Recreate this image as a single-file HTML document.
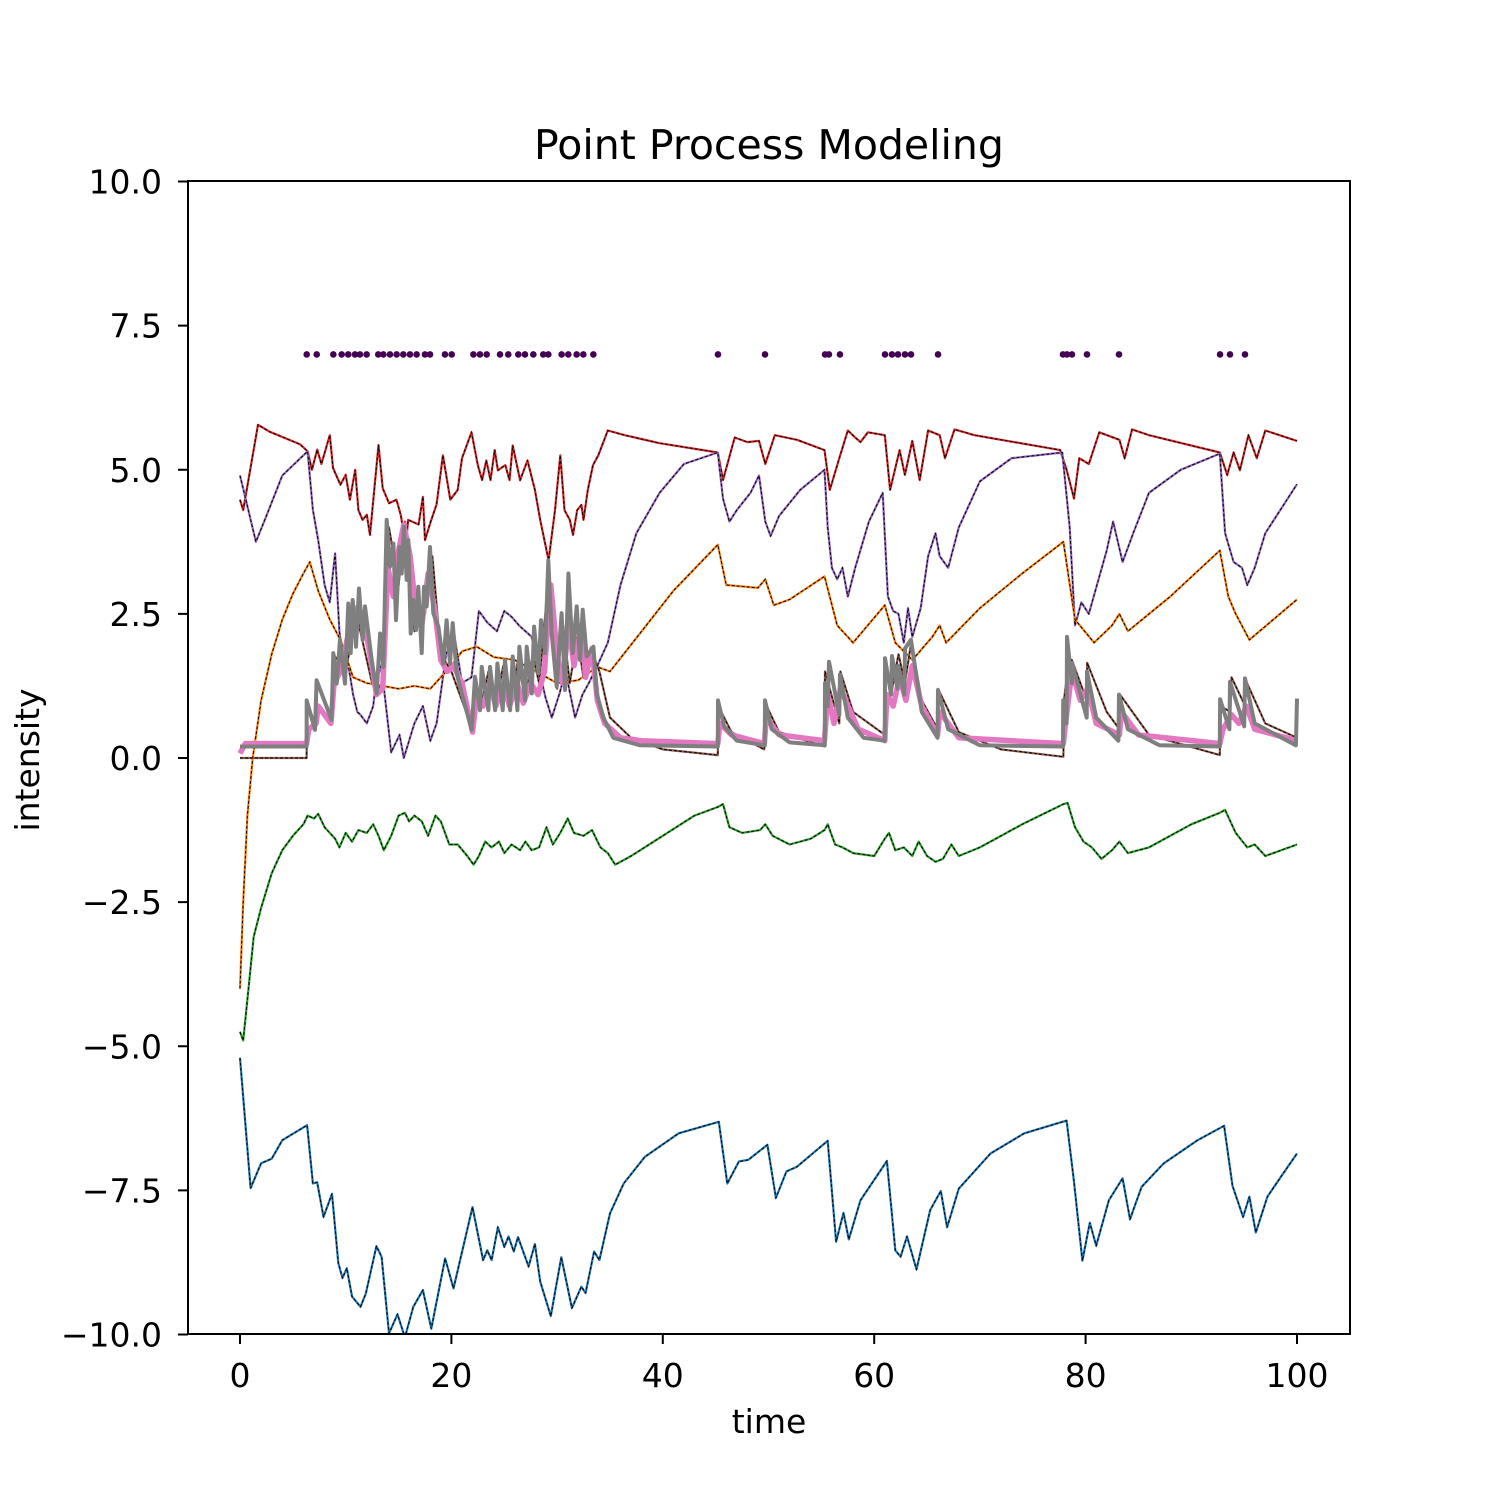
<!DOCTYPE html>
<html><head><meta charset="utf-8"><style>
html,body{margin:0;padding:0;background:#fff;}
svg{display:block;font-family:"DejaVu Sans","Liberation Sans",sans-serif;}
</style></head><body>
<svg id="chart" width="1500" height="1500" viewBox="0 0 1500 1500" xmlns="http://www.w3.org/2000/svg">
<rect width="1500" height="1500" fill="#fff"/>
<defs><clipPath id="plotclip"><rect x="188" y="181" width="1162" height="1153"/></clipPath></defs>
<text x="769" y="159" font-size="41" text-anchor="middle">Point Process Modeling</text>
<g id="series" clip-path="url(#plotclip)"></g>
<rect x="188" y="181" width="1162" height="1153" fill="none" stroke="#000" stroke-width="2"/>
<g id="axes" font-size="33"></g>
<text x="769" y="1433" font-size="33" text-anchor="middle">time</text>
<text x="0" y="0" font-size="33" text-anchor="middle" transform="translate(39,760) rotate(-90)">intensity</text>
</svg>
<script>
const xTicks=[0,20,40,60,80,100];
const yTicks=[10,7.5,5,2.5,0,-2.5,-5,-7.5,-10];
const yTickLabels=["10.0","7.5","5.0","2.5","0.0","\u22122.5","\u22125.0","\u22127.5","\u221210.0"];
const eventTimes=[6.31,7.26,8.83,9.62,10.24,10.88,11.35,11.98,13.08,13.56,14.19,14.82,15.45,16.08,16.71,17.5,17.98,19.39,20.03,22.08,22.7,23.34,24.6,25.38,26.33,26.96,27.75,28.69,29.17,30.43,31.06,31.85,32.48,33.43,45.22,49.67,55.35,55.72,56.76,61.02,61.68,62.25,62.91,63.48,66.04,77.86,78.24,78.71,80.13,83.16,92.72,93.66,95.08];
const eventLevel=7;
const redT=[0,0.3,1.7,2.8,5.7,6.4,6.8,7.3,7.7,8.5,8.8,9.5,10,10.4,10.9,11.2,11.6,12,12.3,13.1,13.5,14.1,14.8,15.2,15.7,15.9,16.9,17.3,17.5,18,18.6,19.2,19.9,20.6,21,21.9,22.5,22.9,23.3,23.7,24.1,24.4,25.1,25.5,25.8,26.5,27.2,27.9,28.4,29.2,29.8,30.3,30.7,31.2,31.5,31.9,32.3,32.5,32.9,33.4,33.9,34.8,36.4,39.7,45.2,45.7,46.8,48,49.1,49.7,50.6,52.7,55.3,55.8,56.7,57.5,58.2,58.7,59.4,61,61.5,62.4,62.9,63.6,64.3,65.1,66.2,66.7,67.6,69.5,77.6,78.2,78.9,79.4,80.3,81.3,83.2,83.7,84.4,86,92.7,93.4,94,94.6,95.4,96.2,97,100];
const redV=[4.48,4.3,5.78,5.66,5.44,5.32,5.0,5.35,5.1,5.6,5.03,4.74,4.91,4.48,5.0,4.3,4.13,4.22,3.87,5.43,4.68,4.42,4.48,4.22,3.7,4.13,4.05,4.53,3.78,4.08,4.4,5.25,4.48,4.65,5.2,5.65,5.08,4.82,5.16,4.82,5.34,4.99,5.08,4.82,5.42,4.82,5.16,4.65,4.13,3.43,4.3,5.25,4.3,4.13,3.87,4.3,4.39,4.13,4.65,5.08,5.25,5.68,5.6,5.46,5.3,4.82,5.56,5.48,5.5,5.1,5.6,5.52,5.34,4.65,5.2,5.68,5.56,5.48,5.65,5.6,4.65,5.34,4.91,5.5,4.82,5.68,5.6,5.2,5.7,5.6,5.34,5.0,4.5,5.2,5.1,5.65,5.52,5.2,5.7,5.6,5.3,4.91,5.3,4.99,5.6,5.2,5.68,5.5];
const purpleT=[0,0.4,1.5,2.5,4,6.4,6.9,7.4,8,8.5,9,9.4,9.8,10.3,10.7,11.1,11.4,12,12.6,13.1,13.5,14.3,15.1,15.5,16,16.5,17.3,18,18.6,19.5,20.3,21,21.9,22.6,23.4,24.3,25,25.7,26.4,27.6,28.2,28.9,29.5,30.2,30.8,31.7,32.4,33,33.8,34.8,36,37.5,39.7,42,45.2,45.7,46.3,47,48.3,49.1,49.7,50.2,51,53,55.3,55.6,56,56.5,57,57.5,58.2,59.5,60.8,61.3,61.8,62.3,62.8,63.2,63.6,64.4,65.1,65.8,66.2,67,68,70,73,77.8,78.5,79,79.6,80.3,82,82.6,83.5,84.5,86,89,92.7,93.2,94,94.8,95.3,96,97,100];
const purpleV=[4.9,4.6,3.75,4.2,4.9,5.32,4.3,3.78,3.0,2.7,3.55,2.2,1.6,1.55,1.1,0.8,0.75,0.6,0.9,1.7,1.4,0.1,0.4,0.0,0.3,0.6,0.9,0.3,0.6,1.8,2.1,1.3,1.4,2.55,2.35,2.2,2.55,2.45,2.3,2.1,1.6,1.05,0.7,1.1,1.5,0.7,1.1,1.3,1.6,2.0,3.0,3.9,4.6,5.1,5.3,4.5,4.1,4.3,4.6,4.9,4.1,3.85,4.2,4.65,5.0,4.0,3.3,3.1,3.3,2.8,3.3,4.1,4.6,2.8,2.55,2.5,2.0,2.6,2.1,2.6,3.5,3.9,3.5,3.3,4.0,4.8,5.2,5.3,4.0,2.3,2.7,2.5,3.6,4.1,3.4,3.9,4.6,5.0,5.28,3.9,3.4,3.3,3.0,3.3,3.9,4.75];
const orangeT=[0,0.3,0.7,1.2,2,3,4,5,6,6.6,7.4,8.5,9.5,10.7,12,13.5,15,16.5,18,19,20,21,22.4,24,26,28,30,32,33.8,35,38,41,45.2,46,49,49.7,50.5,52,55.3,56.5,58,61,62,63.6,65.5,66.2,66.8,70,74,77.9,79,80.8,82.5,83.2,84,88,92.7,93.5,94.2,95.5,100];
const orangeV=[-4.0,-2.5,-1.0,0.0,1.0,1.8,2.4,2.85,3.2,3.4,2.9,2.4,2.05,1.4,1.3,1.25,1.2,1.25,1.2,1.4,1.6,1.85,1.93,1.75,1.7,1.5,1.3,1.35,1.58,1.5,2.2,2.9,3.7,3.0,2.95,3.1,2.65,2.75,3.15,2.3,2.0,2.65,2.0,1.7,2.1,2.3,2.0,2.6,3.2,3.75,2.4,2.0,2.3,2.5,2.2,2.8,3.6,2.8,2.5,2.05,2.75];
const greenT=[0,0.3,0.8,1.3,2,3,4,5,6,6.4,7,7.4,8,9,9.4,10,10.6,11.2,12,12.6,13.1,13.6,14.3,15,15.6,16,16.5,17.2,17.8,18.5,19,19.8,20.6,21.5,22.1,22.6,23.2,23.8,24.5,25,25.7,26.5,27,27.6,28.3,29,29.6,30.3,31,31.6,32.5,33.3,34.1,34.8,35.5,37,40,43,45.2,45.7,46.3,47.5,49.2,49.7,50.4,52,54,55.3,55.6,56.3,57,58,60,61,61.4,62,62.8,63.6,64.2,65,65.8,66.5,67.3,68,70,74,77.9,78.3,79,79.8,80.6,81.5,82.5,83.2,84,86,90,92.7,93.2,94.2,95.3,96,97,100];
const greenV=[-4.75,-4.9,-4.0,-3.1,-2.6,-2.0,-1.6,-1.35,-1.15,-1.0,-1.05,-0.97,-1.2,-1.4,-1.55,-1.3,-1.45,-1.25,-1.3,-1.15,-1.35,-1.6,-1.35,-1.0,-0.95,-1.1,-1.0,-1.1,-1.35,-1.0,-1.1,-1.5,-1.5,-1.7,-1.85,-1.7,-1.45,-1.55,-1.45,-1.65,-1.5,-1.6,-1.45,-1.6,-1.55,-1.2,-1.5,-1.3,-1.05,-1.3,-1.35,-1.25,-1.55,-1.65,-1.85,-1.7,-1.35,-1.0,-0.85,-0.8,-1.2,-1.3,-1.25,-1.15,-1.35,-1.5,-1.4,-1.25,-1.15,-1.5,-1.55,-1.65,-1.7,-1.4,-1.3,-1.6,-1.55,-1.7,-1.45,-1.7,-1.8,-1.75,-1.5,-1.7,-1.55,-1.15,-0.8,-0.78,-1.2,-1.45,-1.55,-1.75,-1.6,-1.45,-1.65,-1.55,-1.15,-0.95,-0.9,-1.3,-1.55,-1.5,-1.7,-1.5];
const blueT=[0,1.0,2.0,3.0,4.0,6.35,6.9,7.3,7.9,8.7,9.3,9.7,10.1,10.6,11.4,11.9,12.9,13.4,14.1,14.9,15.6,16.4,17.3,18.1,19.4,20.2,22.0,23.0,23.4,23.8,24.4,25.0,25.4,25.9,26.3,27.3,27.9,28.4,29.4,30.4,31.4,32.3,32.7,33.5,34.0,35.0,36.3,38.3,41.5,45.3,46.1,47.2,48.1,49.9,50.7,51.7,52.7,55.6,56.4,57.1,57.6,58.7,61.2,62.0,62.5,63.1,64.0,65.3,66.3,66.9,68.0,71.0,74.2,78.2,78.9,79.7,80.4,81.0,82.2,83.5,84.2,85.3,87.4,90.6,93.1,93.9,94.9,95.5,96.1,97.2,98.5,100];
const blueV=[-5.2,-7.46,-7.03,-6.95,-6.63,-6.37,-7.38,-7.36,-7.96,-7.56,-8.76,-9.02,-8.85,-9.34,-9.52,-9.29,-8.47,-8.65,-9.98,-9.65,-10.05,-9.52,-9.23,-9.9,-8.68,-9.2,-7.79,-8.71,-8.54,-8.71,-8.14,-8.48,-8.3,-8.56,-8.31,-8.82,-8.43,-9.08,-9.68,-8.66,-9.54,-9.17,-9.28,-8.56,-8.71,-7.9,-7.38,-6.92,-6.51,-6.31,-7.38,-7.0,-6.97,-6.71,-7.63,-7.17,-7.09,-6.64,-8.39,-7.89,-8.35,-7.67,-6.99,-8.54,-8.65,-8.3,-8.87,-7.84,-7.51,-8.14,-7.47,-6.86,-6.51,-6.29,-7.35,-8.72,-8.06,-8.46,-7.67,-7.29,-8.0,-7.44,-7.03,-6.63,-6.38,-7.42,-7.96,-7.61,-8.23,-7.61,-7.26,-6.86];
const darkT=[0,6.3,6.35,7.2,7.3,8.7,8.85,10,11,12.5,13.5,14.1,15,15.6,16.5,17.5,18.2,19,20,22,22.3,22.8,23.5,24.2,24.9,25.6,26.3,27,27.7,28.3,28.7,29.2,30,30.5,31.2,31.9,32.5,33.4,34,35,37,40,45.2,45.25,46.5,49.6,49.7,51,55.3,55.35,56.7,56.8,58,61,61.05,61.7,62.3,62.9,63.5,64.5,66,66.05,68,72,77.9,77.95,78.3,78.7,80.1,80.15,82,83.2,83.25,86,92.7,92.75,93.7,93.8,95.1,95.15,97,100];
const darkV=[0,0,0.95,0.55,1.3,0.7,1.8,1.5,2.5,1.3,1.2,4.0,3.0,4.1,2.2,2.5,3.5,1.8,1.5,0.5,1.4,0.9,1.5,0.9,1.6,0.9,1.7,1.0,1.8,1.3,2.1,3.2,1.2,2.4,1.3,2.1,1.4,1.8,1.5,0.7,0.35,0.15,0.05,0.9,0.45,0.15,0.95,0.45,0.2,1.5,0.6,1.5,0.8,0.4,1.6,1.2,1.8,1.3,2.0,1.0,0.5,1.2,0.45,0.15,0.02,1.0,1.5,1.7,1.0,1.65,0.8,0.5,1.1,0.4,0.05,0.9,0.8,1.4,0.9,1.35,0.6,0.35];
const pinkT=[0,0.5,6.3,6.5,7.2,7.4,8.6,8.9,9.5,10.3,11,11.6,12.3,12.9,13.5,14,14.5,15,15.5,16.1,16.6,17.2,17.8,18.4,19,19.6,20.2,21,22,22.4,23,23.6,24.2,24.9,25.5,26.2,26.8,27.5,28.2,28.8,29.4,30,30.5,31.1,31.6,32.3,32.7,33.3,33.8,34.5,36,38,45.2,45.4,46.5,49.6,49.8,51,55.3,55.6,56.2,56.8,58.5,61,61.2,61.8,62.4,63,63.6,64.5,66,66.2,68,77.9,78.1,78.7,79.5,80.2,81,83.2,83.4,85,92.7,93,93.8,94.5,95.2,96,100];
const pinkV=[0.08,0.25,0.25,0.5,0.6,0.9,0.6,1.3,1.5,2.2,2.6,2.5,1.8,1.1,1.2,3.3,2.8,3.6,4.05,3.5,2.6,2.3,3.2,2.6,1.7,1.5,1.6,1.3,0.45,1.1,0.9,1.3,0.9,1.3,0.9,1.3,0.95,1.3,1.1,1.5,3.0,1.8,1.3,2.3,1.6,2.3,1.4,1.9,1.0,0.6,0.35,0.3,0.25,0.6,0.4,0.25,0.7,0.4,0.3,1.1,0.6,1.2,0.5,0.3,1.1,0.9,1.4,1.0,1.6,0.9,0.4,0.8,0.35,0.25,0.6,1.5,1.0,1.2,0.6,0.4,0.8,0.4,0.25,0.5,0.75,0.6,0.9,0.5,0.3];
const grayT=[0,6.3,6.31,7.1,7.25,8.67,8.83,9.15,9.46,9.93,10.25,10.47,10.66,10.97,11.26,11.6,11.83,12.46,12.93,13.25,13.56,13.88,14.19,14.51,14.76,15.08,15.3,15.52,15.77,15.93,16.15,16.4,16.65,16.87,17.19,17.41,17.66,17.98,18.29,18.77,19.24,19.55,19.87,20.12,20.5,20.97,21.92,22.23,22.71,22.87,23.5,23.65,24.13,24.35,24.85,25.07,25.55,25.8,26.24,26.43,26.97,27.12,27.6,27.82,28.23,28.48,28.86,29.17,29.49,29.96,30.43,30.75,31.07,31.48,31.85,32.17,32.42,32.8,33.43,33.75,34.38,35.32,37.85,45.2,45.22,45.8,47,49.65,49.67,50.3,52,55.33,55.35,55.6,55.72,56.7,56.76,57.5,59,61.0,61.02,61.6,61.68,62.2,62.25,62.85,62.91,63.48,64.5,66,66.04,67,70,77.86,77.88,78.2,78.24,78.7,78.71,80.1,80.13,81,83.1,83.16,84,87,92.7,92.72,93.6,93.66,95,95.08,96,99.9,100];
const grayV=[0.2,0.2,1.0,0.49,1.35,0.66,1.82,1.29,2.05,1.29,2.68,1.82,2.74,1.93,2.94,2.05,2.63,1.7,1.12,2.16,1.58,4.13,3.32,3.72,2.39,3.66,3.2,4.01,3.09,3.78,2.16,2.74,2.22,2.97,1.82,2.97,2.63,3.66,2.51,2.28,1.64,2.39,1.64,2.34,1.47,1.12,0.49,1.41,0.83,1.58,0.83,1.58,0.83,1.64,0.83,1.7,0.83,1.76,0.83,1.93,1.0,1.93,1.12,2.28,1.47,2.39,1.82,3.43,2.16,1.24,2.51,1.18,3.2,1.82,2.63,1.7,2.57,1.76,1.93,1.12,0.7,0.35,0.22,0.2,1.0,0.55,0.3,0.22,1.0,0.5,0.27,0.22,1.3,0.9,1.67,0.75,1.45,0.7,0.35,0.3,1.73,1.1,1.77,1.2,1.6,1.1,1.9,2.05,0.8,0.35,1.18,0.5,0.22,0.2,1.0,0.6,2.1,1.3,1.65,0.7,1.5,0.7,0.3,1.1,0.5,0.22,0.2,1.02,0.5,1.32,0.55,1.38,0.6,0.22,1.03];

const X0=240, XS=10.57, Y0=758, YS=57.65;
function xScale(t){return X0+t*XS;}
function yScale(v){return Y0-v*YS;}
const NS="http://www.w3.org/2000/svg";
const seriesG=document.getElementById('series');
const axesG=document.getElementById('axes');
function pathD(ts,vs){let d='';for(let i=0;i<ts.length;i++){d+=(i?'L':'M')+xScale(ts[i]).toFixed(1)+' '+yScale(vs[i]).toFixed(1);}return d;}
function drawLine(name,ts,vs,color,w,dashOverlay){
  const p=document.createElementNS(NS,'path');
  p.setAttribute('d',pathD(ts,vs));p.setAttribute('fill','none');p.setAttribute('stroke',color);
  p.setAttribute('stroke-width',w);p.setAttribute('stroke-linejoin','round');
  
  
  seriesG.appendChild(p);
  if(dashOverlay){
    const q=document.createElementNS(NS,'path');
    q.setAttribute('d',pathD(ts,vs));q.setAttribute('fill','none');q.setAttribute('stroke','#000');
    q.setAttribute('stroke-width','1');q.setAttribute('stroke-dasharray','3,2');
    
    
    seriesG.appendChild(q);
  }
}
drawLine('red-intensity-line',redT,redV,'#d62728',2.2,true);
drawLine('purple-intensity-line',purpleT,purpleV,'#9467bd',2.2,true);
drawLine('orange-intensity-line',orangeT,orangeV,'#ff7f0e',2.2,true);
drawLine('green-intensity-line',greenT,greenV,'#2ca02c',2.2,true);
drawLine('blue-intensity-line',blueT,blueV,'#1f77b4',2.2,true);
drawLine('brown-intensity-line',darkT,darkV,'#8c564b',2.2,true);
drawLine('pink-intensity-line',pinkT,pinkV,'#e377c2',5.5,false);
drawLine('gray-intensity-line',grayT,grayV,'#7f7f7f',4,false);
for(let i=0;i<eventTimes.length;i++){
  const c=document.createElementNS(NS,'circle');
  c.setAttribute('cx',xScale(eventTimes[i]));c.setAttribute('cy',yScale(eventLevel));c.setAttribute('r','3.3');c.setAttribute('fill','#440154');
  
  
  seriesG.appendChild(c);
}
for(let i=0;i<xTicks.length;i++){
  const x=xScale(xTicks[i]);
  const l=document.createElementNS(NS,'line');
  l.setAttribute('x1',x);l.setAttribute('x2',x);l.setAttribute('y1',1334);l.setAttribute('y2',1344);l.setAttribute('stroke','#000');l.setAttribute('stroke-width','2');
  
  
  axesG.appendChild(l);
  const t=document.createElementNS(NS,'text');
  t.setAttribute('x',x);t.setAttribute('y',1387);t.setAttribute('text-anchor','middle');t.textContent=xTicks[i];
  
  
  axesG.appendChild(t);
}
for(let i=0;i<yTicks.length;i++){
  const y=yScale(yTicks[i]);
  const l=document.createElementNS(NS,'line');
  l.setAttribute('x1',178);l.setAttribute('x2',188);l.setAttribute('y1',y);l.setAttribute('y2',y);l.setAttribute('stroke','#000');l.setAttribute('stroke-width','2');
  
  
  axesG.appendChild(l);
  const t=document.createElementNS(NS,'text');
  t.setAttribute('x',162);t.setAttribute('y',y+12);t.setAttribute('text-anchor','end');t.textContent=yTickLabels[i];
  
  
  axesG.appendChild(t);
}
</script>
</body></html>
